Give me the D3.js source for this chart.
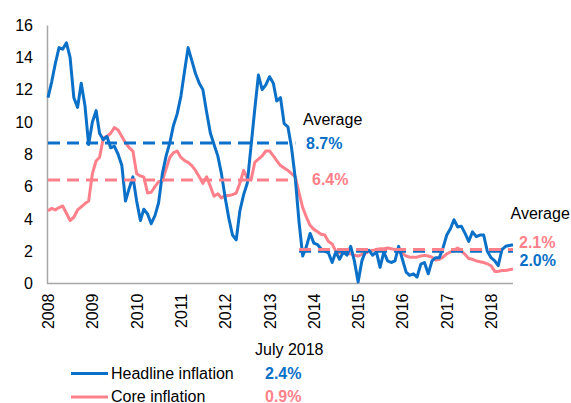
<!DOCTYPE html>
<html>
<head>
<meta charset="utf-8">
<script src="https://cdn.jsdelivr.net/npm/d3@7"></script>
<style>
  body { margin: 0; background: #fff; }
  text { font-family: Arial, "Liberation Sans", sans-serif; }
</style>
</head>
<body>
<svg width="571" height="403"></svg>
<script>
// monthly, Jan 2008 .. Jul 2018
const startMonth = new Date(2008, 0, 1);
const headline = [
  11.5, 12.5, 13.6, 14.6, 14.5, 14.9, 14.0, 11.5, 10.9, 12.4, 11.0, 8.6,
  10.0, 10.7, 9.3, 8.9, 9.1, 8.4, 8.5, 8.0, 7.3, 5.1, 5.9, 6.6,
  5.1, 3.9, 4.6, 4.3, 3.7, 4.2, 5.0, 6.8, 7.9, 8.7, 9.8, 10.5,
  11.6, 13.2, 14.6, 13.8, 13.0, 12.4, 12.0, 10.6, 9.3, 8.6, 7.9, 6.8,
  5.3, 4.0, 3.0, 2.7, 4.5, 5.5, 6.2, 8.5, 10.8, 12.9, 12.0, 12.3,
  12.8, 12.4, 11.3, 11.5, 9.9, 9.7, 8.4, 6.5, 3.8, 1.7, 2.3, 3.1,
  2.5, 2.4, 2.15, 2.0, 1.9, 1.3, 1.95, 1.5, 1.95, 1.75, 2.3, 1.4,
  0.1, 1.4, 1.95, 2.05, 1.75, 1.95, 1.0, 1.95, 1.4, 1.3, 1.4, 2.3,
  1.5, 0.7, 0.5, 0.6, 0.4, 1.2, 1.3, 0.6, 1.4, 1.6, 1.6, 2.2,
  3.0, 3.4, 3.95, 3.5, 3.55, 3.1, 2.6, 3.2, 2.9, 3.0, 3.0, 2.0,
  1.6, 1.4, 1.1, 2.1, 2.3, 2.35, 2.4
];
const core = [
  4.5, 4.65, 4.55, 4.7, 4.8, 4.35, 3.9, 4.1, 4.55, 4.75, 4.95, 5.1,
  6.8, 7.6, 7.8, 9.0, 9.1, 9.3, 9.65, 9.5, 9.1, 8.7, 8.4, 8.2,
  6.8, 6.65, 6.6, 5.6, 5.65, 6.0, 6.3, 6.35, 7.1, 7.8, 8.1, 8.2,
  7.8, 7.6, 7.5, 7.3, 7.0, 6.6, 6.2, 6.6, 6.0, 5.4, 5.55, 5.3,
  5.45, 5.45, 5.5, 5.6, 6.2, 7.0, 6.5, 6.4, 7.5, 7.7, 7.9, 8.2,
  8.2, 7.9, 7.6, 7.3, 7.15, 7.0, 6.8, 6.6, 5.6, 4.7, 4.1, 3.6,
  3.35, 3.2, 3.05, 3.0, 2.6, 2.45, 2.0, 1.9, 1.85, 1.85, 1.84, 1.75,
  1.7, 1.8, 1.85, 2.0, 2.05, 2.1, 2.15, 2.15, 2.2, 2.15, 2.1, 1.95,
  1.85, 1.7, 1.63, 1.63, 1.63, 1.7, 1.74, 1.7, 1.63, 1.45, 1.5, 1.63,
  1.84, 1.95, 2.05, 2.2, 2.0, 1.8, 1.55, 1.5, 1.4, 1.35, 1.3, 1.22,
  1.1, 0.75, 0.75, 0.8, 0.8, 0.85, 0.9
];
// average periods: [first month index, last month index]
const periods = [[0, 67], [68, 126]];
const headlineAvg = [8.7, 2.0];
const coreAvg = [6.4, 2.1];
const yTicks = [0, 2, 4, 6, 8, 10, 12, 14, 16];
const years = d3.range(2008, 2019);

const blue = "#0A70C8";
const pink = "#FF808A";

const svg = d3.select("svg");
const month = i => d3.timeMonth.offset(startMonth, i);

const x = d3.scaleTime()
  .domain([startMonth, month(126)])
  .range([48, 513]);
const y = d3.scaleLinear().domain([0, 16]).range([283.5, 25]);

// axes
const yAxis = svg.append("g")
  .attr("transform", "translate(47,0)")
  .call(d3.axisLeft(y).tickValues(yTicks).tickSize(0).tickPadding(14));
yAxis.select(".domain").attr("stroke", "#A6A6A6").attr("stroke-width", 1.5);
yAxis.selectAll("text").attr("font-size", 16).attr("fill", "#000")
  .attr("font-family", "Arial, 'Liberation Sans', sans-serif");

const xAxis = svg.append("g")
  .attr("transform", "translate(0,283.5)")
  .call(d3.axisBottom(x)
    .tickValues(years.map(yr => new Date(yr, 0, 1)))
    .tickFormat(d3.timeFormat("%Y"))
    .tickSize(0));
xAxis.select(".domain").attr("stroke", "#A6A6A6").attr("stroke-width", 1.5)
  .attr("d", "M47,0H513");
xAxis.selectAll("text")
  .attr("font-size", 16).attr("fill", "#000")
  .attr("font-family", "Arial, 'Liberation Sans', sans-serif")
  .attr("transform", "rotate(-90)")
  .attr("text-anchor", "end")
  .attr("x", -10).attr("y", 0).attr("dy", "0.35em");

// series lines
const line = d3.line().x((d, i) => x(month(i))).y(d => y(d));

svg.append("path").datum(core)
  .attr("fill", "none").attr("stroke", pink).attr("stroke-width", 3)
  .attr("stroke-linejoin", "round").attr("d", line);
svg.append("path").datum(headline)
  .attr("fill", "none").attr("stroke", blue).attr("stroke-width", 3)
  .attr("stroke-linejoin", "round").attr("d", line);

// average dashed lines
function avgLines(vals, color) {
  svg.append("g").selectAll("line")
    .data(periods)
    .enter().append("line")
    .attr("x1", d => x(month(d[0])))
    .attr("x2", d => x(month(d[1])))
    .attr("y1", (d, i) => y(vals[i]))
    .attr("y2", (d, i) => y(vals[i]))
    .attr("stroke", color)
    .attr("stroke-width", 3)
    .attr("stroke-dasharray", "12,7");
}
avgLines(headlineAvg, blue);
avgLines(coreAvg, pink);

// annotations
const fmt = v => v.toFixed(1) + "%";
svg.append("text").attr("x", 303).attr("y", 125).attr("font-size", 16).text("Average");
svg.append("text").attr("x", 306).attr("y", 148.5).attr("font-size", 16)
  .attr("font-weight", "bold").attr("fill", blue).text(fmt(headlineAvg[0]));
svg.append("text").attr("x", 312).attr("y", 185).attr("font-size", 16)
  .attr("font-weight", "bold").attr("fill", pink).text(fmt(coreAvg[0]));

svg.append("text").attr("x", 510.5).attr("y", 218.5).attr("font-size", 16).text("Average");
svg.append("text").attr("x", 519).attr("y", 247.5).attr("font-size", 16)
  .attr("font-weight", "bold").attr("fill", pink).text(fmt(coreAvg[1]));
svg.append("text").attr("x", 519.5).attr("y", 266).attr("font-size", 16)
  .attr("font-weight", "bold").attr("fill", blue).text(fmt(headlineAvg[1]));

// legend
const legendItems = [
  { name: "Headline inflation", color: blue, last: headline[headline.length - 1] },
  { name: "Core inflation", color: pink, last: core[core.length - 1] }
];
svg.append("text").attr("x", 255).attr("y", 355).attr("font-size", 16).text("July 2018");
const lg = svg.append("g").selectAll("g")
  .data(legendItems)
  .enter().append("g")
  .attr("transform", (d, i) => `translate(0,${373.5 + i * 23.5})`);
lg.append("line").attr("x1", 71).attr("x2", 108)
  .attr("stroke", d => d.color).attr("stroke-width", 3);
lg.append("text").attr("x", 111).attr("y", 5).attr("font-size", 16).text(d => d.name);
lg.append("text").attr("x", 265).attr("y", 5).attr("font-size", 16)
  .attr("font-weight", "bold").attr("fill", d => d.color).text(d => fmt(d.last));
</script>
</body>
</html>
